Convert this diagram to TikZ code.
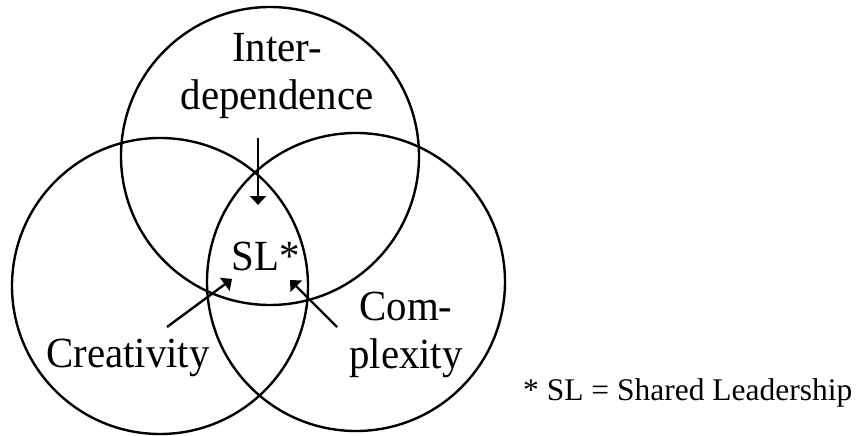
\documentclass[tikz,border=0pt]{standalone}
\usepackage{fontspec}
\setmainfont{Liberation Serif}
\newfontfamily\labelfont[FakeStretch=0.95]{Liberation Serif}
\usetikzlibrary{arrows.meta}
\tikzset{
  ring/.style={draw=black, line width=2.4pt},
  lbl/.style={inner sep=0pt, anchor=base, font=\labelfont\fontsize{43}{48}\selectfont},
  note/.style={inner sep=0pt, anchor=base west, font=\fontsize{31.5}{34}\selectfont},
  pointer/.style={draw=black, line width=2.4pt, -{Triangle[length=9pt,width=16pt]}}
}
\begin{document}
\begin{tikzpicture}[x=1pt,y=-1pt]
\useasboundingbox (0,0) rectangle (863,436);
% circles
\draw[ring] (270,156) circle (149);
\draw[ring] (160,286) circle (148);
\draw[ring] (356,282) circle (149);
% labels
\node[lbl] (inter) at (277,62) {Inter-};
\node[lbl] (dep) at (277,110) {dependence};
\node[lbl] (sl) at (265.5,270) {SL*};
\node[lbl] (crea) at (128,367) {Creativity};
\node[lbl] (com) at (406,320) {Com-};
\node[lbl] (plex) at (406,368) {plexity};
\node[note] (fn) at (523,400) {* SL = Shared Leadership};
% arrows
\coordinate (a1s) at (258,138);
\coordinate (a1e) at (258,205);
\coordinate (a2s) at (167,327);
\coordinate (a2e) at (232,279);
\coordinate (a3s) at (337,327);
\coordinate (a3e) at (290,280);
\draw[pointer] (a1s) -- (a1e);
\draw[pointer] (a2s) -- (a2e);
\draw[pointer] (a3s) -- (a3e);
\end{tikzpicture}
\end{document}
